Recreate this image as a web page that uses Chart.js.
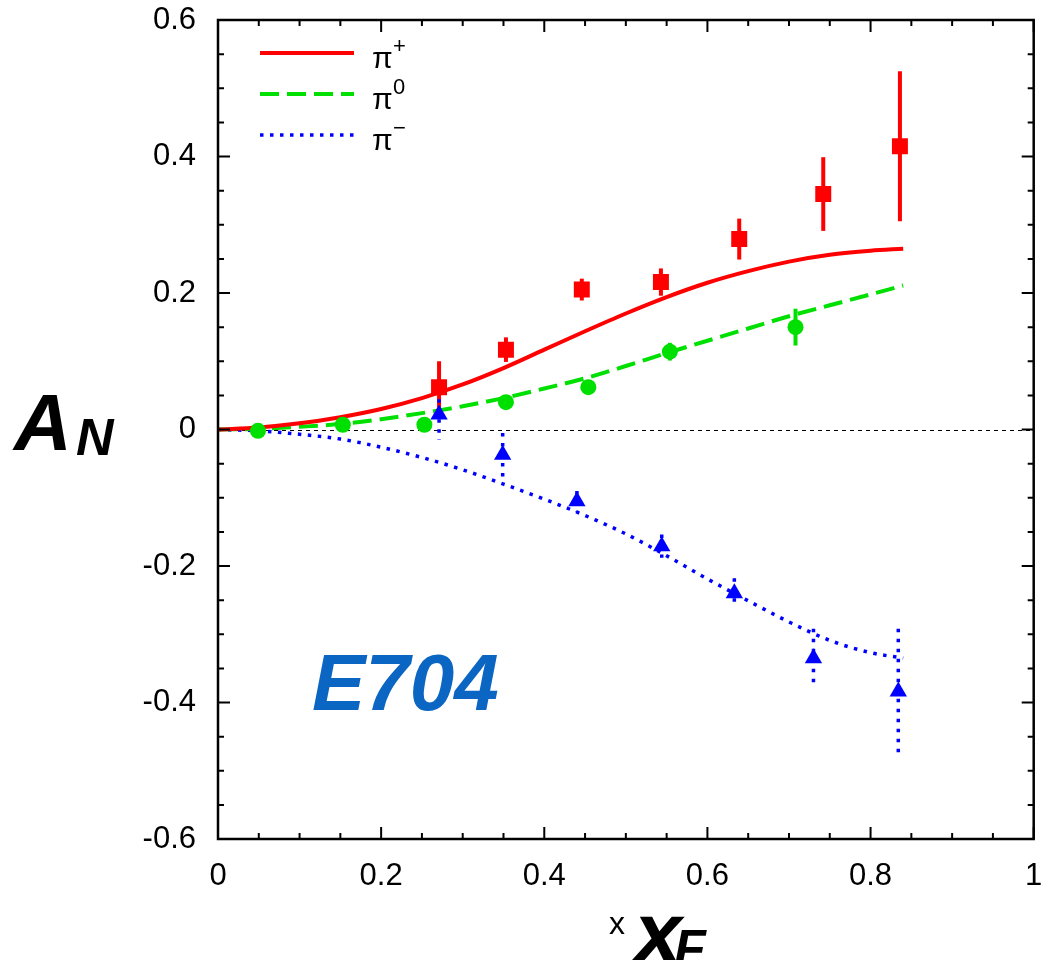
<!DOCTYPE html>
<html>
<head>
<meta charset="utf-8">
<title>E704 A_N vs x_F</title>
<script src="https://cdn.jsdelivr.net/npm/chart.js@4.4.1/dist/chart.umd.min.js"></script>
<style>
  html, body { margin: 0; padding: 0; background: #fff; }
  #wrap { width: 1045px; height: 960px; position: relative; }
</style>
</head>
<body>
<div id="wrap"><canvas id="chart" width="1045" height="960"></canvas></div>
<script>
/* ===== DATA ===== */

// measured points (x_F, A_N, error)
const plusX   = [0.271, 0.353, 0.446, 0.543, 0.639, 0.742, 0.836];
const plusY   = [0.062, 0.117, 0.205, 0.216, 0.279, 0.345, 0.415];
const plusErr = [0.038, 0.018, 0.016, 0.020, 0.030, 0.054, 0.110];

const zeroX   = [0.049, 0.153, 0.253, 0.353, 0.454, 0.554, 0.708];
const zeroY   = [-0.002, 0.007, 0.007, 0.040, 0.062, 0.114, 0.150];
const zeroErr = [0.004, 0.004, 0.004, 0.006, 0.006, 0.013, 0.027];

const minusX   = [0.271, 0.349, 0.440, 0.544, 0.633, 0.730, 0.834];
const minusY   = [0.022, -0.037, -0.105, -0.171, -0.240, -0.335, -0.384];
const minusErr = [0.037, 0.032, 0.015, 0.017, 0.022, 0.043, 0.092];

// model curves
const curveX     = [0, 0.05, 0.1, 0.15, 0.2, 0.25, 0.3, 0.35, 0.4, 0.45, 0.5, 0.55, 0.6, 0.65, 0.7, 0.75, 0.8, 0.84];
const curvePlus  = [0, 0.003, 0.009, 0.018, 0.030, 0.046, 0.066, 0.090, 0.117, 0.144, 0.170, 0.194, 0.215, 0.232, 0.246, 0.256, 0.262, 0.265];
const curveZero  = [0, 0.001, 0.004, 0.008, 0.015, 0.024, 0.034, 0.046, 0.060, 0.075, 0.093, 0.112, 0.130, 0.148, 0.166, 0.182, 0.198, 0.211];
const curveMinus = [0, -0.002, -0.007, -0.014, -0.026, -0.041, -0.059, -0.080, -0.102, -0.126, -0.153, -0.185, -0.219, -0.251, -0.282, -0.309, -0.327, -0.335];

// ticks
const xTickVals   = [0, 0.2, 0.4, 0.6, 0.8, 1];
const xTickLabels = ['0', '0.2', '0.4', '0.6', '0.8', '1'];
const yTickVals   = [-0.6, -0.4, -0.2, 0, 0.2, 0.4, 0.6];
const yTickLabels = ['-0.6', '-0.4', '-0.2', '0', '0.2', '0.4', '0.6'];

// legend
const legendNames = ['π', 'π', 'π'];
const legendSups  = ['+', '0', '−'];

/* ===== STYLES ===== */
const RED = '#ff0000', GREEN = '#00e000', BLUE = '#0000ff';
const DOT = [3.5, 6.5], DASH = [19, 8];
const FONT = '"Liberation Sans", Arial, sans-serif';

const pts = (xs, ys) => xs.map((x, i) => ({ x, y: ys[i] }));

function curve(ys, color, dash, width) {
  return {
    type: 'line', data: pts(curveX, ys), borderColor: color, borderWidth: width,
    borderDash: dash, pointRadius: 0, fill: false,
    cubicInterpolationMode: 'monotone', order: 2
  };
}

function markers(xs, ys, errs, color, style, r, errDash) {
  return {
    type: 'scatter', data: pts(xs, ys), backgroundColor: color, borderColor: color,
    borderWidth: 0, pointStyle: style, pointRadius: r, pointHoverRadius: r,
    errors: errs, errDash, order: 1
  };
}

// keep the plot box exactly where the layout padding puts it
function noOverhang(s) {
  s.paddingTop = 0; s.paddingBottom = 0; s.paddingLeft = 0; s.paddingRight = 0;
}

/* ===== PLUGINS ===== */

// vertical error bars behind the markers
const errorBars = {
  id: 'errorBars',
  beforeDatasetsDraw(chart) {
    const { ctx, scales: { x, y } } = chart;
    ctx.save();
    chart.data.datasets.forEach(ds => {
      if (!ds.errors) return;
      ctx.strokeStyle = ds.borderColor;
      ctx.lineWidth = ds.errDash.length ? 3.5 : 4;
      ctx.setLineDash(ds.errDash);
      ds.data.forEach((p, i) => {
        const px = x.getPixelForValue(p.x);
        ctx.beginPath();
        ctx.moveTo(px, y.getPixelForValue(p.y + ds.errors[i]));
        ctx.lineTo(px, y.getPixelForValue(p.y - ds.errors[i]));
        ctx.stroke();
      });
    });
    ctx.restore();
  }
};

// dashed zero line
const zeroLine = {
  id: 'zeroLine',
  beforeDatasetsDraw(chart) {
    const { ctx, chartArea: a, scales: { y } } = chart;
    const py = Math.round(y.getPixelForValue(0)) + 0.5;
    ctx.save();
    ctx.strokeStyle = '#000';
    ctx.lineWidth = 1;
    ctx.setLineDash([4, 4]);
    ctx.beginPath();
    ctx.moveTo(a.left, py);
    ctx.lineTo(a.right, py);
    ctx.stroke();
    ctx.restore();
  }
};

// box frame with inward ticks on all four sides
const frame = {
  id: 'frame',
  afterDraw(chart) {
    const { ctx, chartArea: a, scales: { x, y } } = chart;
    ctx.save();
    ctx.strokeStyle = '#000';
    ctx.setLineDash([]);
    ctx.lineWidth = 2;
    for (let k = 0; k <= 20; k++) {
      const v = k * 0.05;
      const len = k % 4 === 0 ? 12 : 6;
      const px = x.getPixelForValue(v);
      ctx.beginPath();
      ctx.moveTo(px, a.bottom); ctx.lineTo(px, a.bottom - len);
      ctx.moveTo(px, a.top); ctx.lineTo(px, a.top + len);
      ctx.stroke();
    }
    for (let k = 0; k <= 24; k++) {
      const v = -0.6 + k * 0.05;
      const len = k % 4 === 0 ? 12 : 6;
      const py = y.getPixelForValue(v);
      ctx.beginPath();
      ctx.moveTo(a.left, py); ctx.lineTo(a.left + len, py);
      ctx.moveTo(a.right, py); ctx.lineTo(a.right - len, py);
      ctx.stroke();
    }
    ctx.lineWidth = 2.5;
    ctx.strokeRect(a.left, a.top, a.right - a.left, a.bottom - a.top);
    ctx.restore();
  }
};

// legend, axis titles and the E704 tag
const labels = {
  id: 'labels',
  afterDraw(chart) {
    const { ctx } = chart;
    const lines = chart.data.datasets.slice(0, 3);
    ctx.save();

    // legend
    lines.forEach((ds, i) => {
      const ly = 53 + i * 41;
      ctx.strokeStyle = ds.borderColor;
      ctx.lineWidth = ds.borderWidth;
      ctx.setLineDash(ds.borderDash);
      ctx.beginPath();
      ctx.moveTo(260, ly); ctx.lineTo(354, ly);
      ctx.stroke();
      ctx.setLineDash([]);
      ctx.fillStyle = '#000';
      ctx.textBaseline = 'alphabetic';
      ctx.textAlign = 'left';
      ctx.font = '30px ' + FONT;
      ctx.fillText(legendNames[i], 372, ly + 15);
      ctx.font = '22px ' + FONT;
      ctx.fillText(legendSups[i], 393, ly);
    });

    // y title A_N
    ctx.fillStyle = '#000';
    ctx.font = 'italic bold 80px ' + FONT;
    ctx.fillText('A', 14, 450);
    ctx.font = 'italic bold 52px ' + FONT;
    ctx.fillText('N', 76, 455);

    // x title  x x_F
    ctx.font = '32px ' + FONT;
    ctx.fillText('x', 609, 934);
    ctx.font = 'italic bold 86px ' + FONT;
    ctx.fillText('x', 634, 962);
    ctx.font = 'italic bold 52px ' + FONT;
    ctx.fillText('F', 674, 966);

    // experiment tag
    ctx.fillStyle = '#0a66c2';
    ctx.font = 'italic bold 80px ' + FONT;
    ctx.fillText('E704', 312, 710);
    ctx.restore();
  }
};

/* ===== CHART ===== */
const tickFont = { family: FONT, size: 31 };

new Chart(document.getElementById('chart'), {
  type: 'scatter',
  data: {
    datasets: [
      curve(curvePlus, RED, [], 4),
      curve(curveZero, GREEN, DASH, 4),
      curve(curveMinus, BLUE, DOT, 3.5),
      markers(plusX, plusY, plusErr, RED, 'rect', 11.3, []),
      markers(zeroX, zeroY, zeroErr, GREEN, 'circle', 8, []),
      markers(minusX, minusY, minusErr, BLUE, 'triangle', 10, DOT)
    ]
  },
  options: {
    responsive: false,
    animation: false,
    layout: { padding: { left: 0, top: 20, right: 8, bottom: 0 } },
    plugins: { legend: { display: false }, tooltip: { enabled: false } },
    scales: {
      x: {
        type: 'linear', min: 0, max: 1,
        grid: { display: false, drawTicks: false }, border: { display: false },
        afterBuildTicks: s => { s.ticks = xTickVals.map(v => ({ value: v })); },
        afterFit: s => { s.height = 121; noOverhang(s); },
        ticks: {
          font: tickFont, color: '#000', padding: 19, autoSkip: false, maxRotation: 0,
          callback: v => xTickLabels[xTickVals.findIndex(t => Math.abs(t - v) < 1e-6)]
        }
      },
      y: {
        type: 'linear', min: -0.6, max: 0.6,
        grid: { display: false, drawTicks: false }, border: { display: false },
        afterBuildTicks: s => { s.ticks = yTickVals.map(v => ({ value: v })); },
        afterFit: s => { s.width = 218; noOverhang(s); },
        ticks: {
          font: tickFont, color: '#000', padding: 22, autoSkip: false,
          callback: v => yTickLabels[yTickVals.findIndex(t => Math.abs(t - v) < 1e-6)]
        }
      }
    }
  },
  plugins: [zeroLine, errorBars, frame, labels]
});
</script>
</body>
</html>
